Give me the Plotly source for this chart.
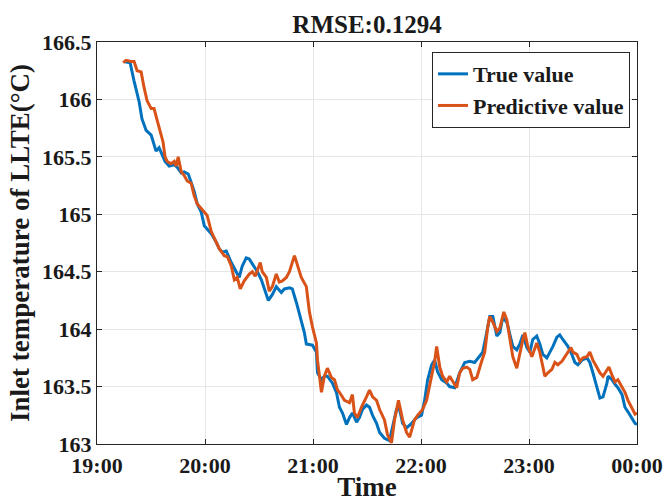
import plotly.graph_objects as go

# minutes after 19:00 and temperatures (°C)
true_min = [15.0, 18.4, 20.6, 23.4, 25.0, 27.3, 30.1, 31.7, 32.8, 34.5, 36.2, 37.8, 40.1, 42.9, 44.5, 46.8,
            48.4, 50.7, 52.3, 54.0, 55.7, 57.9, 59.6, 61.2, 63.5, 66.2, 67.9, 69.6, 71.8, 74.6, 77.4, 79.0,
            80.7, 82.9, 84.6, 86.3, 89.1, 91.3, 93.0, 95.2, 97.4, 99.6, 102.4, 104.1, 106.9, 108.5, 110.8,
            113.5, 115.2, 116.3, 119.7, 121.9, 122.5, 124.7, 126.3, 128.0, 130.8, 133.0, 134.7, 136.4, 138.6,
            140.3, 141.9, 144.2, 145.8, 147.5, 149.7, 151.4, 153.1, 155.3, 157.0, 159.7, 162.5, 164.2, 166.4,
            168.1, 169.8, 172.0, 174.8, 177.6, 180.3, 182.0, 183.7, 185.9, 187.6, 189.2, 191.5, 194.3, 195.9,
            198.7, 201.5, 204.3, 207.1, 209.8, 212.6, 214.3, 216.5, 218.2, 219.9, 222.1, 223.8, 225.4, 227.7,
            229.3, 231.0, 233.2, 234.9, 236.6, 238.8, 240.5, 242.1, 244.3, 246.0, 247.7, 249.9, 251.6, 253.3,
            255.5, 257.1, 258.8, 261.6, 263.8, 265.5, 267.2, 269.4, 272.2, 273.8, 275.5, 277.7, 279.4, 281.1,
            283.3, 283.9, 286.1, 287.8, 289.4, 291.7, 293.3, 295.0, 297.2, 298.9, 300.0]
true_val = [166.33, 166.32, 166.16, 165.98, 165.83, 165.73, 165.69, 165.60, 165.55, 165.58, 165.51, 165.46,
            165.42, 165.43, 165.41, 165.36, 165.37, 165.35, 165.28, 165.20, 165.09, 165.02, 164.90, 164.87,
            164.83, 164.76, 164.70, 164.67, 164.68, 164.58, 164.50, 164.45, 164.55, 164.62, 164.61, 164.57,
            164.50, 164.43, 164.35, 164.25, 164.30, 164.37, 164.32, 164.35, 164.36, 164.35, 164.23, 164.08,
            163.97, 163.87, 163.86, 163.80, 163.62, 163.56, 163.59, 163.59, 163.53, 163.45, 163.32, 163.27,
            163.17, 163.23, 163.27, 163.19, 163.23, 163.30, 163.34, 163.32, 163.25, 163.18, 163.10, 163.05,
            163.03, 163.15, 163.30, 163.30, 163.18, 163.14, 163.18, 163.23, 163.25, 163.38, 163.56, 163.69,
            163.73, 163.63, 163.56, 163.53, 163.50, 163.49, 163.62, 163.71, 163.72, 163.71, 163.76, 163.80,
            163.97, 164.11, 164.11, 163.94, 163.97, 164.10, 164.06, 163.97, 163.85, 163.82, 163.87, 163.95,
            163.84, 163.80, 163.91, 163.94, 163.87, 163.78, 163.75, 163.80, 163.85, 163.93, 163.95, 163.91,
            163.85, 163.78, 163.71, 163.69, 163.73, 163.75, 163.71, 163.62, 163.50, 163.40, 163.41, 163.53,
            163.59, 163.56, 163.52, 163.49, 163.43, 163.32, 163.28, 163.23, 163.18, 163.17]

pred_min = [14.5, 16.1, 18.9, 20.6, 22.3, 24.5, 26.2, 27.8, 30.1, 31.7, 33.4, 35.6, 36.7, 37.8, 39.0, 41.2,
            42.9, 44.0, 45.1, 46.8, 48.4, 50.1, 52.3, 54.0, 55.7, 57.9, 59.6, 61.2, 63.5, 66.2, 67.9, 70.7,
            72.4, 74.6, 76.3, 77.9, 79.6, 81.8, 84.6, 86.3, 87.9, 90.7, 91.8, 94.1, 95.7, 97.4, 99.6, 101.3,
            103.0, 105.2, 106.9, 109.7, 111.3, 113.5, 116.3, 118.0, 119.7, 121.9, 122.5, 124.7, 126.3, 128.0,
            130.2, 131.9, 133.6, 134.7, 137.5, 140.3, 141.9, 143.0, 144.7, 146.9, 149.7, 151.4, 153.1, 155.3,
            157.0, 159.7, 161.4, 163.6, 165.3, 167.5, 169.8, 172.0, 173.7, 176.4, 178.1, 180.9, 183.1, 185.9,
            187.6, 188.7, 190.4, 192.0, 194.3, 195.9, 197.0, 199.8, 201.5, 203.2, 205.4, 207.1, 208.7, 211.0,
            213.7, 215.4, 217.1, 218.2, 219.9, 222.1, 223.8, 226.0, 227.7, 229.3, 231.0, 233.2, 234.9, 236.6,
            237.7, 239.3, 241.6, 244.3, 246.0, 247.7, 248.8, 250.5, 252.7, 254.4, 256.0, 258.3, 259.9, 261.6,
            263.3, 264.4, 266.6, 268.3, 270.0, 272.2, 273.8, 275.5, 277.7, 279.4, 281.1, 283.3, 284.4, 286.1,
            287.8, 289.4, 291.7, 293.3, 295.0, 297.2, 298.9, 300.0]
pred_val = [166.32, 166.34, 166.33, 166.33, 166.25, 166.24, 166.10, 165.99, 165.92, 165.92, 165.82, 165.69,
            165.63, 165.50, 165.46, 165.44, 165.46, 165.42, 165.50, 165.37, 165.34, 165.29, 165.27, 165.16,
            165.09, 165.05, 165.02, 164.99, 164.85, 164.76, 164.70, 164.64, 164.63, 164.55, 164.43, 164.45,
            164.35, 164.42, 164.48, 164.50, 164.46, 164.58, 164.50, 164.45, 164.33, 164.37, 164.48, 164.41,
            164.42, 164.45, 164.50, 164.64, 164.55, 164.45, 164.37, 164.15, 164.02, 163.88, 163.73, 163.45,
            163.59, 163.66, 163.58, 163.56, 163.47, 163.45, 163.38, 163.36, 163.43, 163.27, 163.23, 163.32,
            163.41, 163.47, 163.41, 163.38, 163.30, 163.21, 163.08, 163.01, 163.21, 163.38, 163.21, 163.10,
            163.06, 163.21, 163.25, 163.30, 163.38, 163.59, 163.72, 163.85, 163.67, 163.59, 163.54, 163.59,
            163.56, 163.49, 163.62, 163.66, 163.67, 163.65, 163.56, 163.58, 163.72, 163.80, 164.02, 164.11,
            164.06, 163.98, 164.01, 164.15, 164.08, 163.94, 163.76, 163.66, 163.80, 163.91, 163.97, 163.85,
            163.76, 163.88, 163.80, 163.67, 163.59, 163.62, 163.65, 163.71, 163.69, 163.72, 163.76, 163.80,
            163.84, 163.80, 163.78, 163.72, 163.75, 163.76, 163.80, 163.73, 163.67, 163.62, 163.59, 163.65,
            163.67, 163.60, 163.54, 163.56, 163.50, 163.45, 163.38, 163.31, 163.26, 163.27]

x_tickvals = [19, 20, 21, 22, 23, 24]
x_ticktext = ["19:00", "20:00", "21:00", "22:00", "23:00", "00:00"]
y_tickvals = [163, 163.5, 164, 164.5, 165, 165.5, 166, 166.5]
y_ticktext = ["163", "163.5", "164", "164.5", "165", "165.5", "166", "166.5"]

FONT = "Liberation Serif, Times New Roman, serif"
INK = "#1a1a1a"

fig = go.Figure()
fig.add_trace(go.Scatter(x=[19 + m / 60 for m in true_min], y=true_val, mode="lines",
                         name="True value", line=dict(color="#0072BD", width=3)))
fig.add_trace(go.Scatter(x=[19 + m / 60 for m in pred_min], y=pred_val, mode="lines",
                         name="Predictive value", line=dict(color="#D95319", width=3)))

axis_common = dict(showline=True, linecolor="#262626", linewidth=1, mirror="allticks",
                   ticks="inside", ticklen=5, tickcolor="#262626", showgrid=True,
                   gridcolor="#E6E6E6", gridwidth=1, zeroline=False, automargin=False,
                   tickfont=dict(family=FONT, size=22, color=INK, weight="bold"))

fig.update_layout(
    width=666, height=502,
    margin=dict(l=97, r=29, t=42, b=58),
    paper_bgcolor="white", plot_bgcolor="white",
    font=dict(family=FONT, color=INK, weight="bold"),
    title=dict(text="RMSE:0.1294", x=367 / 666, xanchor="center", y=1 - 33 / 502,
               yanchor="bottom", font=dict(family=FONT, size=25, color=INK, weight="bold")),
    xaxis=dict(range=[19, 24], tickvals=x_tickvals, ticktext=x_ticktext, ticklabelstandoff=2,
               title=dict(text="Time", standoff=0,
                          font=dict(family=FONT, size=27, color=INK, weight="bold")),
               **axis_common),
    yaxis=dict(range=[163, 166.5], tickvals=y_tickvals, ticktext=y_ticktext,
               title=dict(text="Inlet temperature of LLTE(°C)", standoff=4,
                          font=dict(family=FONT, size=27, color=INK, weight="bold")),
               **axis_common),
    legend=dict(x=0.987, xanchor="right", y=0.975, yanchor="top",
                bgcolor="white", bordercolor="#262626", borderwidth=1,
                font=dict(family=FONT, size=22, color=INK, weight="bold"),
                tracegroupgap=0, itemwidth=30),
    showlegend=True,
)

fig.write_html("out.html")
